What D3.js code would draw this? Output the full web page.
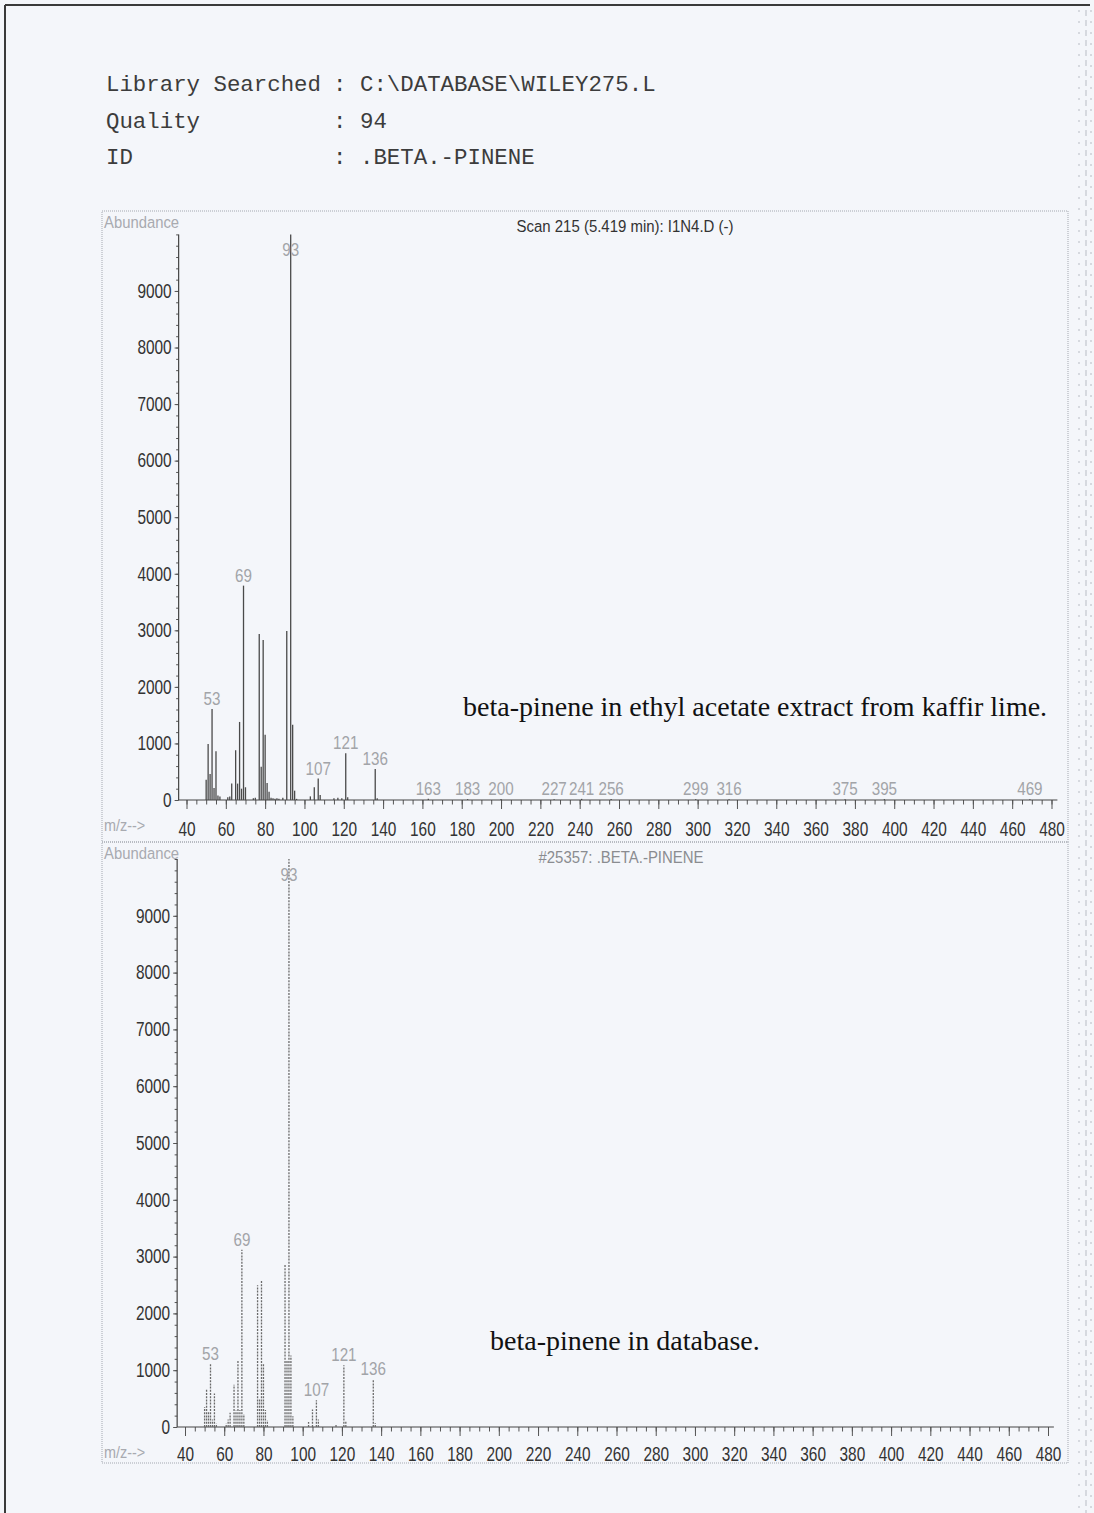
<!DOCTYPE html>
<html>
<head>
<meta charset="utf-8">
<script src="https://cdn.jsdelivr.net/npm/d3@7"></script>
<style>
  html, body { margin: 0; padding: 0; background: #f4f6fa; }
  svg { display: block; }
  .mono { font-family: "Liberation Mono", "DejaVu Sans Mono", monospace; }
  .narrow { font-family: "Liberation Sans Narrow", "Arial Narrow", "Liberation Sans", sans-serif; }
  .serif { font-family: "Liberation Serif", "Times New Roman", serif; }
</style>
</head>
<body>
<svg id="page" width="1094" height="1513"></svg>
<script>
// Search report header
const headerKeys = ["Library Searched", "Quality", "ID"];
const headerValues = ["C:\\DATABASE\\WILEY275.L", "94", ".BETA.-PINENE"];

// Axis ticks
const yTickValues = [0, 1000, 2000, 3000, 4000, 5000, 6000, 7000, 8000, 9000];
const xTickValues = [40, 60, 80, 100, 120, 140, 160, 180, 200, 220, 240, 260, 280, 300,
                     320, 340, 360, 380, 400, 420, 440, 460, 480];

// Scan 215 spectrum (m/z, abundance)
const sampleMz = [50, 51, 52, 53, 54, 55, 56, 57, 61, 62, 63, 65, 66, 67, 68, 69, 70, 74, 75,
                  77, 78, 79, 80, 81, 82, 83, 84, 85, 86, 87, 89, 91, 93, 94, 95, 96, 103, 105,
                  107, 108, 115, 117, 119, 121, 122, 136, 137, 163, 183, 200, 227, 241, 256,
                  299, 316, 375, 395, 469];
const sampleAbundance = [360, 990, 460, 1610, 210, 860, 80, 60, 50, 60, 290, 880, 290, 1380, 200,
                         3790, 225, 30, 40, 2935, 590, 2830, 1155, 300, 145, 40, 30, 20, 30, 20, 40,
                         2990, 10000, 1330, 165, 20, 64, 225, 380, 90, 30, 40, 30, 825, 50, 550, 30,
                         20, 15, 18, 15, 20, 18, 15, 15, 15, 15, 15];
const sampleLabeled = [53, 69, 93, 107, 121, 136, 163, 183, 200, 227, 241, 256, 299, 316, 375, 395, 469];

// Library entry #25357 (m/z, abundance)
const libraryMz = [50, 51, 52, 53, 54, 55, 56, 61, 62, 63, 65, 66, 67, 68, 69, 70, 77, 78, 79,
                   80, 81, 82, 91, 92, 93, 94, 95, 103, 105, 107, 108, 117, 121, 122, 136, 137];
const libraryAbundance = [350, 680, 260, 1115, 130, 590, 60, 60, 130, 250, 745, 290, 1175, 300,
                          3120, 230, 2495, 500, 2570, 1115, 300, 120, 2875, 1160, 10000, 1260, 190,
                          90, 310, 470, 130, 50, 1085, 100, 840, 70];
const libraryLabeled = [53, 69, 93, 107, 121, 136];

const svg = d3.select("#page");

// condensed look for sans labels: squeeze each text horizontally around its anchor
function squeeze(sel, s) {
  sel.each(function () {
    const t = d3.select(this);
    const x = +t.attr("x") || 0, y = +t.attr("y") || 0;
    t.attr("transform", `translate(${x},${y}) scale(${s},1)`).attr("x", 0).attr("y", 0);
  });
}

// paper edges
svg.append("line").attr("x1", 5).attr("y1", 5).attr("x2", 1090).attr("y2", 5)
  .attr("stroke", "#3a3a3a").attr("stroke-width", 2);
svg.append("line").attr("x1", 5).attr("y1", 5).attr("x2", 5).attr("y2", 1513)
  .attr("stroke", "#3a3a3a").attr("stroke-width", 2);
[1079, 1086, 1091].forEach((xx, i) => {
  svg.append("line").attr("x1", xx).attr("y1", 10).attr("x2", xx).attr("y2", 1513)
    .attr("stroke", "#b8bcc4").attr("stroke-width", 1)
    .attr("stroke-dasharray", i === 1 ? "6,4" : "2,9");
});

// header block: key, colon and value in fixed columns
const header = svg.append("g").attr("class", "mono")
  .attr("font-size", 22.4).attr("fill", "#3c3c3c");
headerKeys.forEach((k, i) => {
  const yy = 91 + i * 36.5;
  header.append("text").attr("x", 106).attr("y", yy).text(k);
  header.append("text").attr("x", 333).attr("y", yy).text(":");
  header.append("text").attr("x", 360).attr("y", yy).text(headerValues[i]);
});

function spectrum(cfg) {
  const g = svg.append("g");
  const x = d3.scaleLinear().domain([40, 480]).range(cfg.xRange);
  const y = d3.scaleLinear().domain([0, 10000]).range(cfg.yRange);

  // dotted frame
  g.append("rect").attr("x", 102).attr("y", cfg.frame[0]).attr("width", 966)
    .attr("height", cfg.frame[1] - cfg.frame[0])
    .attr("fill", "none").attr("stroke", "#a4a8b0").attr("stroke-width", 1)
    .attr("stroke-dasharray", "1,1");

  const axisX = x(36);
  const y0 = y(0);

  // y axis
  const yMinor = g.append("g").attr("transform", `translate(${axisX},0)`)
    .call(d3.axisLeft(y).tickValues(d3.range(0, 10001, 200)).tickSize(2.5).tickFormat(""));
  yMinor.select(".domain").remove();
  const yAx = g.append("g").attr("transform", `translate(${axisX},0)`)
    .call(d3.axisLeft(y).tickValues(yTickValues).tickSize(4).tickPadding(3).tickFormat(d3.format("d")));
  yAx.select(".domain").remove();
  yAx.selectAll("text").attr("class", "narrow").attr("font-size", 19.5).attr("fill", "#333")
    .attr("font-family", null).call(squeeze, 0.79);
  g.selectAll(".tick line").attr("stroke", "#555");
  g.append("line").attr("x1", axisX).attr("x2", axisX).attr("y1", y(10000)).attr("y2", y0)
    .attr("stroke", "#444").attr("stroke-width", 1.2);

  // x axis
  const xMinor = g.append("g").attr("transform", `translate(0,${y0})`)
    .call(d3.axisBottom(x).tickValues(d3.range(40, 481, 5)).tickSize(4.5).tickFormat(""));
  xMinor.select(".domain").remove();
  const xAx = g.append("g").attr("transform", `translate(0,${y0})`)
    .call(d3.axisBottom(x).tickValues(xTickValues).tickSize(9).tickPadding(cfg.xPad)
      .tickFormat(d3.format("d")));
  xAx.select(".domain").remove();
  xAx.selectAll("text").attr("class", "narrow").attr("font-size", 19.5).attr("fill", "#333")
    .attr("font-family", null).call(squeeze, 0.79);
  g.selectAll(".tick line").attr("stroke", "#555");
  g.append("line").attr("x1", axisX).attr("x2", x(483)).attr("y1", y0).attr("y2", y0)
    .attr("stroke", "#444").attr("stroke-width", 1.2);

  // peaks
  const data = cfg.mz.map((m, i) => ({ m, v: cfg.abund[i] }));
  g.append("g").selectAll("line").data(data).join("line")
    .attr("x1", d => x(d.m)).attr("x2", d => x(d.m))
    .attr("y1", y0).attr("y2", d => y(d.v))
    .attr("stroke", cfg.barColor).attr("stroke-width", 1.3)
    .attr("stroke-dasharray", cfg.dash);

  // peak labels
  const top = y(10000);
  g.append("g").selectAll("text").data(data.filter(d => cfg.labeled.includes(d.m))).join("text")
    .attr("class", "narrow").attr("font-size", 19).attr("fill", "#a2a4a8")
    .attr("text-anchor", "middle")
    .attr("x", d => x(d.m))
    .attr("y", d => Math.max(y(d.v) - 4, top + 22))
    .text(d => d.m)
    .call(squeeze, 0.8);

  // captions
  g.append("text").attr("class", "narrow").attr("font-size", 16.5).attr("fill", "#a8aab0")
    .attr("x", 104).attr("y", cfg.frame[0] + 17).text("Abundance").call(squeeze, 0.9);
  g.append("text").attr("class", "narrow").attr("font-size", 16).attr("fill", "#a8aab0")
    .attr("x", 104).attr("y", y0 + 31).text("m/z-->").call(squeeze, 0.9);
  g.append("text").attr("class", "narrow").attr("font-size", 17).attr("fill", cfg.titleColor)
    .attr("text-anchor", "middle").attr("x", cfg.titleX).attr("y", cfg.frame[0] + 21)
    .text(cfg.title).call(squeeze, 0.88);
  g.append("text").attr("class", "serif").attr("font-size", 28).attr("fill", "#111")
    .attr("x", cfg.note[0]).attr("y", cfg.note[1]).text(cfg.noteText);
}

spectrum({
  xRange: [186.5, 1051.5], yRange: [800, 234.4], frame: [211, 842], xPad: 13,
  mz: sampleMz, abund: sampleAbundance, labeled: sampleLabeled,
  barColor: "#4a4a4a", dash: null,
  title: "Scan 215 (5.419 min): I1N4.D (-)", titleX: 625, titleColor: "#333",
  note: [463, 716], noteText: "beta-pinene in ethyl acetate extract from kaffir lime."
});

spectrum({
  xRange: [185, 1048], yRange: [1427, 859], frame: [842, 1463], xPad: 11,
  mz: libraryMz, abund: libraryAbundance, labeled: libraryLabeled,
  barColor: "#6a6a6a", dash: "2,1.2",
  title: "#25357: .BETA.-PINENE", titleX: 621, titleColor: "#8a8c90",
  note: [490, 1350], noteText: "beta-pinene in database."
});
</script>
</body>
</html>
